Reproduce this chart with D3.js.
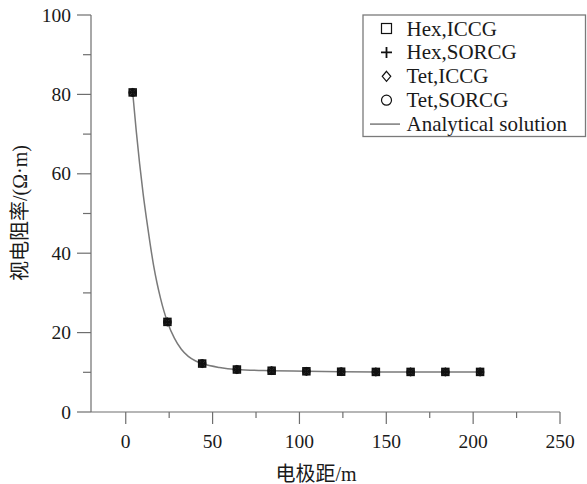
<!DOCTYPE html>
<html>
<head>
<meta charset="utf-8">
<script src="https://cdn.jsdelivr.net/npm/d3@7"></script>
<style>
  html, body { margin: 0; padding: 0; background: #fff; }
  svg { display: block; }
  text { font-family: "Liberation Serif", "Noto Sans CJK SC", serif; fill: #1a1a1a; }
</style>
</head>
<body>
<svg id="chart" width="587" height="484"></svg>
<script>
// Electrode spacing (m) of the computed points
const spacing = [4, 24, 44, 64, 84, 104, 124, 144, 164, 184, 204];
// Apparent resistivity (Ω·m) for each mesh / solver combination
const hexICCG  = [80.5, 22.7, 12.2, 10.7, 10.4, 10.25, 10.15, 10.1, 10.1, 10.1, 10.1];
const hexSORCG = [80.5, 22.7, 12.2, 10.7, 10.4, 10.25, 10.15, 10.1, 10.1, 10.1, 10.1];
const tetICCG  = [80.5, 22.7, 12.2, 10.7, 10.4, 10.25, 10.15, 10.1, 10.1, 10.1, 10.1];
const tetSORCG = [80.5, 22.7, 12.2, 10.7, 10.4, 10.25, 10.15, 10.1, 10.1, 10.1, 10.1];
// Analytical solution curve
const analyticX = [4, 6, 8, 10, 12, 14, 16, 18, 20, 22, 24, 28, 32, 36, 40, 44, 54, 64, 84, 104, 124, 144, 164, 184, 204];
const analyticY = [80.5, 71, 62.5, 55, 48.5, 42.5, 37, 32.5, 28.7, 25.4, 22.7, 18.6, 15.8, 14.0, 12.9, 12.2, 11.2, 10.7, 10.4, 10.25, 10.15, 10.1, 10.1, 10.1, 10.1];
// Axis ticks
const xTicks = [0, 50, 100, 150, 200, 250];
const xMinor = [25, 75, 125, 175, 225];
const yTicks = [0, 20, 40, 60, 80, 100];
const yMinor = [10, 30, 50, 70, 90];
const legendLabels = ["Hex,ICCG", "Hex,SORCG", "Tet,ICCG", "Tet,SORCG", "Analytical solution"];

const axisColor = "#6e6e6e";
const curveColor = "#7a7a7a";

const svg = d3.select("#chart");
const x = d3.scaleLinear().domain([-20, 250]).range([91, 560]);
const y = d3.scaleLinear().domain([0, 100]).range([412, 15]);

// X axis
const gx = svg.append("g").attr("transform", `translate(0,${y(0)})`);
gx.append("line").attr("x1", x(-20)).attr("x2", x(250)).attr("stroke", axisColor).attr("stroke-width", 1.2);
gx.selectAll(".maj").data(xTicks).join("line")
  .attr("x1", d => x(d)).attr("x2", d => x(d)).attr("y1", 0).attr("y2", 12)
  .attr("stroke", axisColor).attr("stroke-width", 1.2);
gx.selectAll(".min").data(xMinor).join("line")
  .attr("x1", d => x(d)).attr("x2", d => x(d)).attr("y1", 0).attr("y2", 6)
  .attr("stroke", axisColor).attr("stroke-width", 1.2);
gx.selectAll("text").data(xTicks).join("text")
  .attr("x", d => x(d)).attr("y", 36).attr("text-anchor", "middle")
  .style("font-size", "19.5px").text(d => d);

// Y axis
const gy = svg.append("g").attr("transform", `translate(${x(-20)},0)`);
gy.append("line").attr("y1", y(0)).attr("y2", y(100)).attr("stroke", axisColor).attr("stroke-width", 1.2);
gy.selectAll(".maj").data(yTicks).join("line")
  .attr("y1", d => y(d)).attr("y2", d => y(d)).attr("x1", 0).attr("x2", -14)
  .attr("stroke", axisColor).attr("stroke-width", 1.2);
gy.selectAll(".min").data(yMinor).join("line")
  .attr("y1", d => y(d)).attr("y2", d => y(d)).attr("x1", 0).attr("x2", -8)
  .attr("stroke", axisColor).attr("stroke-width", 1.2);
gy.selectAll("text").data(yTicks).join("text")
  .attr("x", -20).attr("y", d => y(d)).attr("dy", "0.34em").attr("text-anchor", "end")
  .style("font-size", "19.5px").text(d => d);

// Axis titles
svg.append("text").attr("x", 316).attr("y", 481).attr("text-anchor", "middle")
  .style("font-size", "20px").text("电极距/m");
svg.append("text").attr("transform", "translate(27,213) rotate(-90)").attr("text-anchor", "middle")
  .style("font-size", "20px").text("视电阻率/(Ω·m)");

// Analytical curve
const line = d3.line().x(d => x(d[0])).y(d => y(d[1])).curve(d3.curveMonotoneX);
svg.append("path").datum(analyticX.map((v, i) => [v, analyticY[i]]))
  .attr("d", line).attr("fill", "none").attr("stroke", curveColor).attr("stroke-width", 1.5);

// Marker drawing helpers
function drawSymbol(g, kind, cx, cy, s, sw) {
  const h = s / 2;
  if (kind === "square") {
    g.append("rect").attr("x", cx - h).attr("y", cy - h).attr("width", s).attr("height", s)
      .attr("fill", "none").attr("stroke", "#111").attr("stroke-width", sw);
  } else if (kind === "plus") {
    g.append("path").attr("d", `M${cx - h},${cy}H${cx + h}M${cx},${cy - h}V${cy + h}`)
      .attr("stroke", "#111").attr("stroke-width", sw * 1.5);
  } else if (kind === "diamond") {
    g.append("path").attr("d", `M${cx},${cy - h}L${cx + h * 0.85},${cy}L${cx},${cy + h}L${cx - h * 0.85},${cy}Z`)
      .attr("fill", "none").attr("stroke", "#111").attr("stroke-width", sw);
  } else {
    g.append("circle").attr("cx", cx).attr("cy", cy).attr("r", h)
      .attr("fill", "none").attr("stroke", "#111").attr("stroke-width", sw);
  }
}

const series = [
  { kind: "square", values: hexICCG },
  { kind: "plus", values: hexSORCG },
  { kind: "diamond", values: tetICCG },
  { kind: "circle", values: tetSORCG }
];
const marks = svg.append("g");
series.forEach(s => {
  s.values.forEach((v, i) => drawSymbol(marks, s.kind, x(spacing[i]), y(v), 7, 1.5));
});

// Legend
const lg = svg.append("g");
lg.append("rect").attr("x", 363).attr("y", 15).attr("width", 222.5).attr("height", 121.5)
  .attr("fill", "#fff").attr("stroke", "#7a7a7a").attr("stroke-width", 1.3);
const rowY = i => 28.5 + i * 23.9;
series.forEach((s, i) => drawSymbol(lg, s.kind, 386.5, rowY(i), s.kind === "plus" ? 11 : 10, 1.2));
lg.append("line").attr("x1", 370).attr("x2", 400).attr("y1", rowY(4)).attr("y2", rowY(4))
  .attr("stroke", curveColor).attr("stroke-width", 1.5);
lg.selectAll("text").data(legendLabels).join("text")
  .attr("x", 406.5).attr("y", (d, i) => rowY(i) + 7)
  .style("font-size", "21px").text(d => d);
</script>
</body>
</html>
